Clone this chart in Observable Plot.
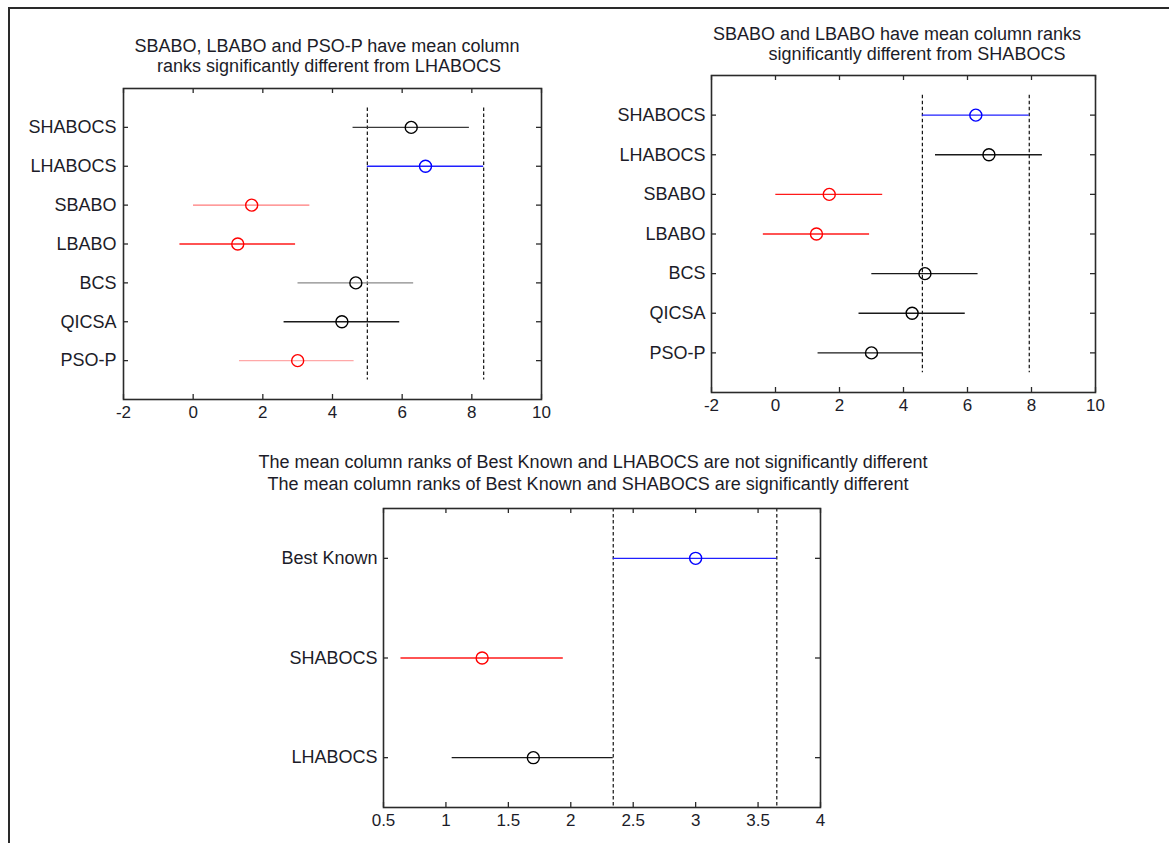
<!DOCTYPE html>
<html><head><meta charset="utf-8">
<script src="https://cdn.jsdelivr.net/npm/d3@7"></script>
<script src="https://cdn.jsdelivr.net/npm/@observablehq/plot@0.6"></script>
<style>
html,body{margin:0;padding:0;background:#fff;}
#page{position:relative;width:1169px;height:843px;overflow:hidden;font-family:"Liberation Sans",Arial,sans-serif;color:#1c1c28;background:#fff;}
.border{position:absolute;left:8px;top:7px;width:1200px;height:900px;border-top:2px solid #2a2a2a;border-left:2px solid #2a2a2a;}
.t{position:absolute;font-size:18px;white-space:nowrap;transform:translate(-50%,-50%);line-height:1;}
.panel{position:absolute;}
</style></head><body><div id="page"><div class="border"></div></div>
<script>
// ---- Data (top-level named arrays) ----
const groups = ["SHABOCS","LHABOCS","SBABO","LBABO","BCS","QICSA","PSO-P"];
const groupMeans = [6.26, 6.67, 1.68, 1.28, 4.67, 4.27, 3.00];
const groupLower = [4.59, 5.00, 0.01, -0.38, 3.01, 2.61, 1.33];
const groupUpper = [7.93, 8.34, 3.35, 2.94, 6.33, 5.93, 4.62];
// status per panel: "sel" = selected group, "diff" = significantly different, "same" = not different
const status1 = ["same","sel","diff","diff","same","same","diff"];
const status2 = ["sel","same","diff","diff","same","same","same"];
const xTicksA = [-2, 0, 2, 4, 6, 8, 10];

const groups3 = ["Best Known","SHABOCS","LHABOCS"];
const means3 = [3.00, 1.29, 1.70];
const lower3 = [2.34, 0.64, 1.05];
const upper3 = [3.65, 1.94, 2.34];
const status3 = ["sel","diff","same"];
const xTicks3 = [0.5, 1, 1.5, 2, 2.5, 3, 3.5, 4];

const title1 = ["SBABO, LBABO and PSO-P have mean column", "ranks significantly different from LHABOCS"];
const title2 = ["SBABO and LBABO have mean column ranks", "significantly different from SHABOCS"];
const title3 = ["The mean column ranks of Best Known and LHABOCS are not significantly different",
                "The mean column ranks of Best Known and SHABOCS are significantly different"];

// ---- Styles ----
const dotColor = {sel: "#0000ff", diff: "#ff0000", same: "#000000"};
const lineColor = {sel: "#2020ff", diff: "#ff1a1a", same: "#1a1a1a"};
// first panel renders some lines in lighter tints
const lineOverride1 = {"SHABOCS": "#3a3a3a", "SBABO": "#ff7a7a", "BCS": "#8a8a8a", "PSO-P": "#ffa8a8"};

function panel(o) {
  const rows = o.names.map((n, i) => ({name: n, row: i + 1, mean: o.means[i], lo: o.lower[i], hi: o.upper[i], status: o.status[i]}));
  const m = o.m;
  const plotW = o.width - m.left - m.right, plotH = o.height - m.top - m.bottom;
  const sel = rows.find(d => d.status === "sel");
  const rowIdx = rows.map(d => d.row);
  const ink = "#2a2a2a";
  const chart = Plot.plot({
    width: o.width, height: o.height,
    marginLeft: m.left, marginRight: m.right, marginTop: m.top, marginBottom: m.bottom,
    style: {fontFamily: "'Liberation Sans', Arial, sans-serif", color: "#1c1c28", background: "transparent", overflow: "visible"},
    x: {domain: o.xDomain},
    y: {domain: o.yDomain, reverse: true},
    color: {type: "identity"},
    marks: [
      Plot.ruleX([sel.lo, sel.hi], {x: d => d, y1: o.dashSpan[0], y2: o.dashSpan[1], stroke: "#111", strokeWidth: 1.2, strokeDasharray: "3.5,2.5"}),
      Plot.ruleY(rows, {y: "row", x1: "lo", x2: "hi", stroke: d => (o.override && o.override[d.name]) || lineColor[d.status], strokeWidth: 1.4}),
      Plot.dot(rows, {x: "mean", y: "row", r: 6, stroke: d => dotColor[d.status], fill: "none", strokeWidth: 1.4}),
      // inward ticks on all four sides
      Plot.tickX(o.xTicks, {x: d => d, insetBottom: plotH - 5, stroke: ink, strokeWidth: 1.3}),
      Plot.tickX(o.xTicks, {x: d => d, insetTop: plotH - 5, stroke: ink, strokeWidth: 1.3}),
      Plot.tickY(rowIdx, {y: d => d, insetRight: plotW - 5, stroke: ink, strokeWidth: 1.3}),
      Plot.tickY(rowIdx, {y: d => d, insetLeft: plotW - 5, stroke: ink, strokeWidth: 1.3}),
      Plot.frame({stroke: ink, strokeWidth: 1.6}),
      Plot.axisX({ticks: o.xTicks, tickSize: 0, tickPadding: 6, fontSize: 17, label: null, tickFormat: d => String(d)}),
      Plot.axisY({ticks: rowIdx, tickSize: 0, tickPadding: o.yPad, fontSize: 18, label: null, tickFormat: i => o.names[i - 1]})
    ]
  });
  const div = document.createElement("div");
  div.className = "panel";
  div.style.left = o.left + "px";
  div.style.top = o.top + "px";
  div.appendChild(chart);
  document.getElementById("page").appendChild(div);
}

function title(text, cx, cy) {
  const d = document.createElement("div");
  d.className = "t";
  d.textContent = text;
  d.style.left = cx + "px";
  d.style.top = cy + "px";
  document.getElementById("page").appendChild(d);
}

panel({names: groups, means: groupMeans, lower: groupLower, upper: groupUpper, status: status1, override: lineOverride1,
  xDomain: [-2, 10], xTicks: xTicksA, yDomain: [0, 8], dashSpan: [0.5, 7.5], yPad: 7,
  width: 580, height: 430, m: {left: 123, right: 39, top: 88, bottom: 31}, left: 0, top: 0});
panel({names: groups, means: groupMeans, lower: groupLower, upper: groupUpper, status: status2,
  xDomain: [-2, 10], xTicks: xTicksA, yDomain: [0, 8], dashSpan: [0.5, 7.5], yPad: 6,
  width: 589, height: 430, m: {left: 131, right: 74, top: 75, bottom: 38}, left: 580, top: 0});
panel({names: groups3, means: means3, lower: lower3, upper: upper3, status: status3,
  xDomain: [0.5, 4], xTicks: xTicks3, yDomain: [0.5, 3.5], dashSpan: [0.5, 3.5], yPad: 6,
  width: 600, height: 403, m: {left: 133, right: 30, top: 68, bottom: 36}, left: 250, top: 440});

title(title1[0], 327, 46); title(title1[1], 329, 66);
title(title2[0], 897, 34); title(title2[1], 917, 54);
title(title3[0], 593, 462); title(title3[1], 588, 484);
</script></body></html>
